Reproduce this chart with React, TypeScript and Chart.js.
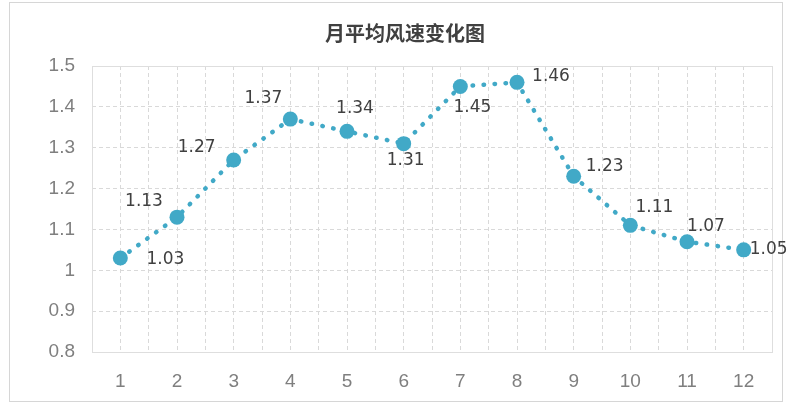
import React, { useEffect, useRef } from "react";
import { Chart, registerables } from "chart.js";

Chart.register(...registerables);

const title = "月平均风速变化图";
const months = [1, 2, 3, 4, 5, 6, 7, 8, 9, 10, 11, 12];
const windSpeed = [1.03, 1.13, 1.27, 1.37, 1.34, 1.31, 1.45, 1.46, 1.23, 1.11, 1.07, 1.05];
const yTicks = [0.8, 0.9, 1.0, 1.1, 1.2, 1.3, 1.4, 1.5];
// label offsets (style only): pixel shift from each point
const labelOffsets: [number, number][] = [
  [45, 2], [-33, -16], [-37, -12], [-27, -21], [8, -23], [2, 17],
  [12, 21], [34, -6], [31, -10], [24, -18], [19, -15], [25, 0],
];

const LINE_COLOR = "#41A9C7";

export default function App() {
  const ref = useRef<HTMLCanvasElement | null>(null);

  useEffect(() => {
    if (!ref.current) return;

    const titlePlugin = {
      id: "customTitle",
      afterDraw(chart: any) {
        const ctx = chart.ctx;
        ctx.save();
        ctx.font = "bold 20px 'Noto Sans CJK SC', sans-serif";
        ctx.fillStyle = "#404040";
        ctx.textAlign = "center";
        ctx.textBaseline = "middle";
        ctx.fillText(title, 405, 33);
        ctx.restore();
      },
    };

    const borderPlugin = {
      id: "plotBorder",
      beforeDatasetsDraw(chart: any) {
        const { ctx, chartArea } = chart;
        ctx.save();
        ctx.strokeStyle = "#dedede";
        ctx.lineWidth = 1;
        ctx.setLineDash([]);
        ctx.strokeRect(
          Math.round(chartArea.left) + 0.5,
          Math.round(chartArea.top) + 0.5,
          Math.round(chartArea.right - chartArea.left),
          Math.round(chartArea.bottom - chartArea.top)
        );
        ctx.restore();
      },
    };

    const labelPlugin = {
      id: "dataLabels",
      afterDatasetsDraw(chart: any) {
        const ctx = chart.ctx;
        const meta = chart.getDatasetMeta(0);
        ctx.save();
        ctx.font = "17px 'DejaVu Sans', sans-serif";
        ctx.fillStyle = "#404040";
        ctx.textAlign = "center";
        ctx.textBaseline = "middle";
        meta.data.forEach((pt: any, i: number) => {
          const [dx, dy] = labelOffsets[i];
          ctx.fillText(windSpeed[i].toFixed(2), pt.x + dx, pt.y + dy);
        });
        ctx.restore();
      },
    };

    const chart = new Chart(ref.current, {
      type: "line",
      data: {
        datasets: [
          {
            data: months.map((m, i) => ({ x: m, y: windSpeed[i] })),
            borderColor: LINE_COLOR,
            backgroundColor: LINE_COLOR,
            borderWidth: 4.5,
            borderDash: [0.5, 10.5],
            borderCapStyle: "round",
            pointRadius: 7.5,
            pointBackgroundColor: LINE_COLOR,
            pointBorderColor: LINE_COLOR,
            pointBorderWidth: 0,
            tension: 0,
            fill: false,
          },
        ],
      },
      options: {
        responsive: false,
        animation: false,
        devicePixelRatio: 1,
        layout: { padding: { left: 0, right: 23, top: 66, bottom: 0 } },
        plugins: {
          legend: { display: false },
          title: { display: false },
          tooltip: { enabled: false },
        },
        scales: {
          x: {
            type: "linear",
            min: 0.5,
            max: 12.5,
            afterFit(scale: any) {
              scale.height = 53;
            },
            afterBuildTicks(scale: any) {
              const t: any[] = [];
              for (let v = 0.5; v <= 12.5001; v += 0.5) t.push({ value: v });
              scale.ticks = t;
            },
            ticks: {
              autoSkip: false,
              maxRotation: 0,
              padding: 18,
              color: "#7f7f7f",
              font: { family: "'Liberation Sans', Arial, sans-serif", size: 19 },
              callback: (v: any) => (Number.isInteger(v) ? String(v) : ""),
            },
            grid: {
              color: "#d9d9d9",
              drawTicks: false,
              lineWidth: 1,
            },
            border: { display: false, dash: [4, 3] },
          },
          y: {
            type: "linear",
            min: yTicks[0],
            max: yTicks[yTicks.length - 1],
            afterFit(scale: any) {
              scale.width = 92;
            },
            afterBuildTicks(scale: any) {
              scale.ticks = yTicks.map((v) => ({ value: v }));
            },
            ticks: {
              padding: 17,
              color: "#7f7f7f",
              font: { family: "'Liberation Sans', Arial, sans-serif", size: 19 },
              callback: (v: any) => String(Number(Number(v).toFixed(1))),
            },
            grid: {
              color: "#d9d9d9",
              drawTicks: false,
              lineWidth: 1,
            },
            border: { display: false, dash: [4, 3] },
          },
        },
      },
      plugins: [borderPlugin, labelPlugin, titlePlugin],
    } as any);

    return () => chart.destroy();
  }, []);

  return (
    <div style={{ position: "absolute", left: 0, top: 0, width: 795, height: 405, background: "#fff" }}>
      <div
        style={{
          position: "absolute",
          left: 9,
          top: 2,
          width: 774,
          height: 400,
          border: "1px solid #d6d6d6",
          boxSizing: "border-box",
        }}
      />
      <canvas ref={ref} width={795} height={405} style={{ position: "absolute", left: 0, top: 0, display: "block" }} />
    </div>
  );
}
